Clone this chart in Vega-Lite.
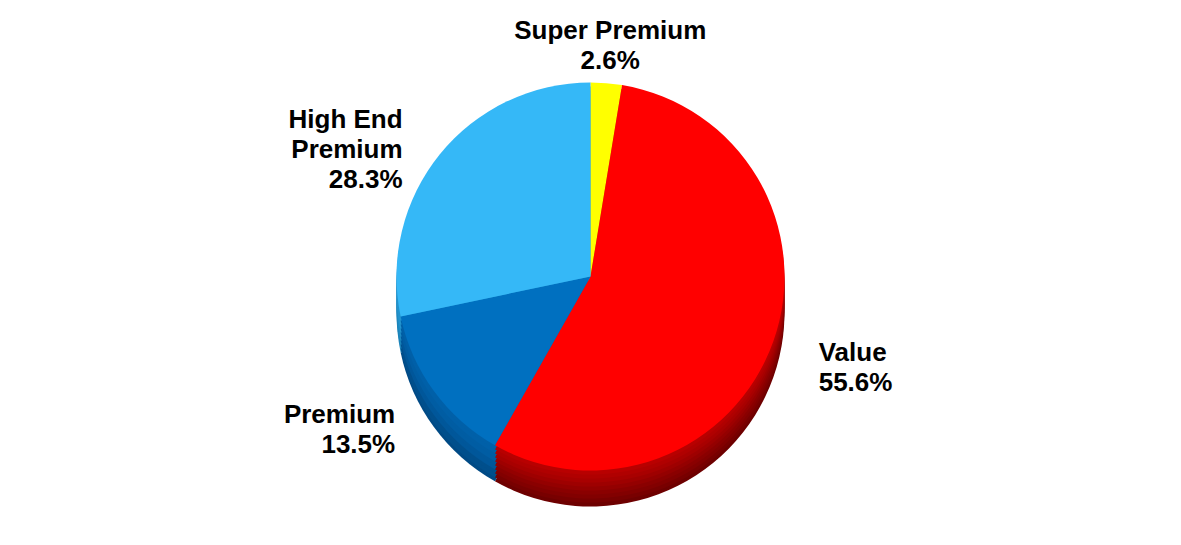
{
  "$schema": "https://vega.github.io/schema/vega-lite/v6.json",
  "autosize": {"type": "fit", "contains": "padding"},
  "width": 1181,
  "height": 545,
  "background": "white",
  "view": {"stroke": null},
  "data": {
    "values": [
      {"segment": "Super Premium", "share": 2.6, "order": 1, "label": "Super Premium\n2.6%"},
      {"segment": "Value", "share": 55.6, "order": 2, "label": "Value\n55.6%"},
      {"segment": "Premium", "share": 13.5, "order": 3, "label": "Premium\n13.5%"},
      {"segment": "High End Premium", "share": 28.3, "order": 4, "label": "High End\nPremium\n28.3%"}
    ]
  },
  "encoding": {
    "theta": {"field": "share", "type": "quantitative", "stack": true},
    "order": {"field": "order", "type": "quantitative"}
  },
  "layer": [
    {"mark": {"type": "arc", "outerRadius": 194, "yOffset": 40}, "encoding": {"color": {"field": "segment", "type": "nominal", "legend": null, "scale": {"domain": ["Super Premium", "Value", "Premium", "High End Premium"], "range": ["#A8A800", "#6E0000", "#004A85", "#1C84BA"]}}}},
    {"mark": {"type": "arc", "outerRadius": 194, "yOffset": 36}, "encoding": {"color": {"field": "segment", "type": "nominal", "legend": null, "scale": {"domain": ["Super Premium", "Value", "Premium", "High End Premium"], "range": ["#A8A800", "#780000", "#004F8C", "#1C84BA"]}}}},
    {"mark": {"type": "arc", "outerRadius": 194, "yOffset": 32}, "encoding": {"color": {"field": "segment", "type": "nominal", "legend": null, "scale": {"domain": ["Super Premium", "Value", "Premium", "High End Premium"], "range": ["#A8A800", "#820000", "#004F8C", "#1C84BA"]}}}},
    {"mark": {"type": "arc", "outerRadius": 194, "yOffset": 28}, "encoding": {"color": {"field": "segment", "type": "nominal", "legend": null, "scale": {"domain": ["Super Premium", "Value", "Premium", "High End Premium"], "range": ["#B5B500", "#8A0000", "#00579A", "#1F8CC4"]}}}},
    {"mark": {"type": "arc", "outerRadius": 194, "yOffset": 24}, "encoding": {"color": {"field": "segment", "type": "nominal", "legend": null, "scale": {"domain": ["Super Premium", "Value", "Premium", "High End Premium"], "range": ["#B5B500", "#940000", "#00579A", "#1F8CC4"]}}}},
    {"mark": {"type": "arc", "outerRadius": 194, "yOffset": 20}, "encoding": {"color": {"field": "segment", "type": "nominal", "legend": null, "scale": {"domain": ["Super Premium", "Value", "Premium", "High End Premium"], "range": ["#B5B500", "#9E0000", "#005DA3", "#2394CE"]}}}},
    {"mark": {"type": "arc", "outerRadius": 194, "yOffset": 16}, "encoding": {"color": {"field": "segment", "type": "nominal", "legend": null, "scale": {"domain": ["Super Premium", "Value", "Premium", "High End Premium"], "range": ["#B5B500", "#A80000", "#005DA3", "#2394CE"]}}}},
    {"mark": {"type": "arc", "outerRadius": 194, "yOffset": 12}, "encoding": {"color": {"field": "segment", "type": "nominal", "legend": null, "scale": {"domain": ["Super Premium", "Value", "Premium", "High End Premium"], "range": ["#B5B500", "#B00000", "#0060A8", "#2394CE"]}}}},
    {"mark": {"type": "arc", "outerRadius": 194, "yOffset": 8}, "encoding": {"color": {"field": "segment", "type": "nominal", "legend": null, "scale": {"domain": ["Super Premium", "Value", "Premium", "High End Premium"], "range": ["#B5B500", "#B80000", "#0060A8", "#2394CE"]}}}},
    {"mark": {"type": "arc", "outerRadius": 194, "yOffset": 4}, "encoding": {"color": {"field": "segment", "type": "nominal", "legend": null, "scale": {"domain": ["Super Premium", "Value", "Premium", "High End Premium"], "range": ["#FFFF00", "#FF0000", "#0070C0", "#35B8F7"]}}}},
    {
      "mark": {
        "type": "text",
        "radius": 242,
        "font": "Liberation Sans",
        "fontWeight": "bold",
        "fontSize": 26,
        "lineHeight": 30,
        "lineBreak": "\n",
        "color": "black",
        "baseline": "middle",
        "align": {"expr": "datum.segment == 'Value' ? 'left' : (datum.segment == 'Super Premium' ? 'center' : 'right')"}
      },
      "encoding": {"text": {"field": "label", "type": "nominal"}}
    }
  ],
  "resolve": {"scale": {"color": "independent"}}
}
